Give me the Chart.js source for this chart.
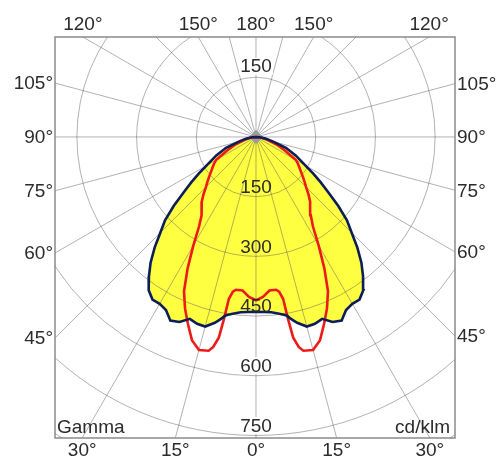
<!DOCTYPE html>
<html><head><meta charset="utf-8">
<script src="https://cdn.jsdelivr.net/npm/chart.js@4.4.1/dist/chart.umd.min.js"></script>
<style>html,body{margin:0;padding:0;background:#fff}#wrap{position:relative;width:500px;height:460px}</style>
</head><body><div id="wrap"><canvas id="c"></canvas></div>
<script>
// Gamma angles (degrees from nadir) and luminous intensity (cd/klm)
const gammaAngles = [0,2.5,5,7.5,8.5,9.5,10,10.5,11.5,12.5,15,17.5,20,22.5,25,27.5,30,32.5,35,37.5,40,42.5,45,47.5,50,52.5,55,57.5,60,65,70,75,80,85,90];
const c0Values  = [439,440,442,448,451,454,457,462,470,478,493,492,486,503,509,490,484,484,470,442,412,377,340,310,270,230,198,170,143,110,80,45,24,10,0];
const c90Values = [410,402,387,387,393,412,465,512,538,550,554,535,500,466,428,372,315,266,240,223,212,195,178,165,153,142,133,125,116,80,54,32,16,7,0];
const ringValues = [150,300,450,600,750];
const angleLabels = [0,15,30,45,60,75,90,105,120,150,180];
const unitLabels = ['Gamma','cd/klm'];

function polarPoints(vals){
  const pts=[];
  for(let i=gammaAngles.length-1;i>=0;i--){
    const g=gammaAngles[i]*Math.PI/180;
    pts.push({x:-vals[i]*Math.sin(g), y:-vals[i]*Math.cos(g)});
  }
  for(let i=1;i<gammaAngles.length;i++){
    const g=gammaAngles[i]*Math.PI/180;
    pts.push({x:vals[i]*Math.sin(g), y:-vals[i]*Math.cos(g)});
  }
  return pts;
}

const FONT='19px "Liberation Sans", Arial, sans-serif';
const TXT='#2b2b2b';

function edgeExit(cx,cy,ux,uy,a){
  let t=Infinity, side='';
  if(ux<-1e-9){const tt=(a.left-cx)/ux; if(tt<t){t=tt;side='left';}}
  if(ux>1e-9){const tt=(a.right-cx)/ux; if(tt<t){t=tt;side='right';}}
  if(uy<-1e-9){const tt=(a.top-cy)/uy; if(tt<t){t=tt;side='top';}}
  if(uy>1e-9){const tt=(a.bottom-cy)/uy; if(tt<t){t=tt;side='bottom';}}
  return {x:cx+ux*t, y:cy+uy*t, side};
}

const polarGrid = {
  id:'polarGrid',
  beforeDatasetsDraw(chart){
    const {ctx, chartArea:a, scales:{x,y}} = chart;
    const cx=x.getPixelForValue(0), cy=y.getPixelForValue(0);
    const k=(x.getPixelForValue(1000)-cx)/1000;
    ctx.save();
    ctx.beginPath(); ctx.rect(a.left,a.top,a.right-a.left,a.bottom-a.top); ctx.clip();
    ctx.strokeStyle='rgba(85,85,85,0.45)'; ctx.lineWidth=1;
    const step=ringValues[1]-ringValues[0];
    for(let v=step; v<=ringValues[ringValues.length-1]+step; v+=step){
      ctx.beginPath(); ctx.arc(cx,cy,v*k,0,2*Math.PI); ctx.stroke();
    }
    for(let d=0; d<360; d+=15){
      const r=d*Math.PI/180;
      ctx.beginPath(); ctx.moveTo(cx,cy); ctx.lineTo(cx+Math.sin(r)*1200, cy+Math.cos(r)*1200); ctx.stroke();
    }
    ctx.fillStyle='#9c9c9c';
    ctx.beginPath(); ctx.moveTo(cx,cy-7); ctx.lineTo(cx+7,cy); ctx.lineTo(cx,cy+7); ctx.lineTo(cx-7,cy); ctx.closePath(); ctx.fill();
    ctx.restore();
  },
  afterDatasetsDraw(chart){
    const {ctx, chartArea:a, scales:{x,y}} = chart;
    const cx=x.getPixelForValue(0), cy=y.getPixelForValue(0);
    const k=(x.getPixelForValue(1000)-cx)/1000;
    ctx.save();
    ctx.font=FONT; ctx.fillStyle=TXT; ctx.textBaseline='middle';
    // ring labels
    const drawRingLabel=(txt,px,py,bg)=>{
      const w=ctx.measureText(txt).width;
      if(bg){ctx.fillStyle='#fff'; ctx.fillRect(px-w/2-1,py-8.5,w+2,17);}
      ctx.fillStyle=TXT; ctx.textAlign='center'; ctx.fillText(txt,px,py+1);
    };
    drawRingLabel(String(ringValues[0]), cx, cy-ringValues[0]*k-11, true);
    ringValues.forEach(v=>{
      const r=v*k;
      drawRingLabel(String(v), cx, cy+r-10, (v*k-10)/k > c0Values[0]);
    });
    // border
    ctx.strokeStyle='#8a8a8a'; ctx.lineWidth=1.5;
    ctx.strokeRect(a.left,a.top,a.right-a.left,a.bottom-a.top);
    // angle labels
    ctx.fillStyle=TXT;
    angleLabels.forEach(g=>{
      const sides=(g===0||g===180)?[1]:[-1,1];
      sides.forEach(s=>{
        const gr=g*Math.PI/180;
        const e=edgeExit(cx,cy,s*Math.sin(gr),Math.cos(gr),a);
        const t=g+'°';
        if(e.side==='top'){ctx.textAlign='center'; ctx.fillText(t,e.x,a.top-12);}
        else if(e.side==='bottom'){ctx.textAlign='center'; ctx.fillText(t,e.x,a.bottom+13);}
        else if(e.side==='left'){ctx.textAlign='right'; ctx.fillText(t,a.left-2,e.y+1);}
        else {ctx.textAlign='left'; ctx.fillText(t,a.right+2,e.y+1);}
      });
    });
    // unit labels
    ctx.textAlign='left'; ctx.fillText(unitLabels[0], a.left+2, a.bottom-10);
    ctx.textAlign='right'; ctx.fillText(unitLabels[1], a.right-5, a.bottom-10);
    ctx.restore();
  }
};

new Chart(document.getElementById('c'),{
  type:'scatter',
  data:{datasets:[
    {label:'C0-C180', data:polarPoints(c0Values), showLine:true, pointRadius:0, borderColor:'#0c1e58', borderWidth:2.6, backgroundColor:'#ffff42', fill:'shape', tension:0},
    {label:'C90-C270', data:polarPoints(c90Values), showLine:true, pointRadius:0, borderColor:'#ee1a1a', borderWidth:2.6, fill:false, tension:0}
  ]},
  options:{
    responsive:true, maintainAspectRatio:false, animation:false,
    layout:{padding:{left:55,right:45,top:37,bottom:22}},
    scales:{
      x:{type:'linear', min:-505, max:500, display:false},
      y:{type:'linear', min:-756, max:251, display:false}
    },
    plugins:{legend:{display:false}, tooltip:{enabled:false}, filler:{drawTime:'beforeDraw'}}
  },
  plugins:[polarGrid]
});
</script></body></html>
